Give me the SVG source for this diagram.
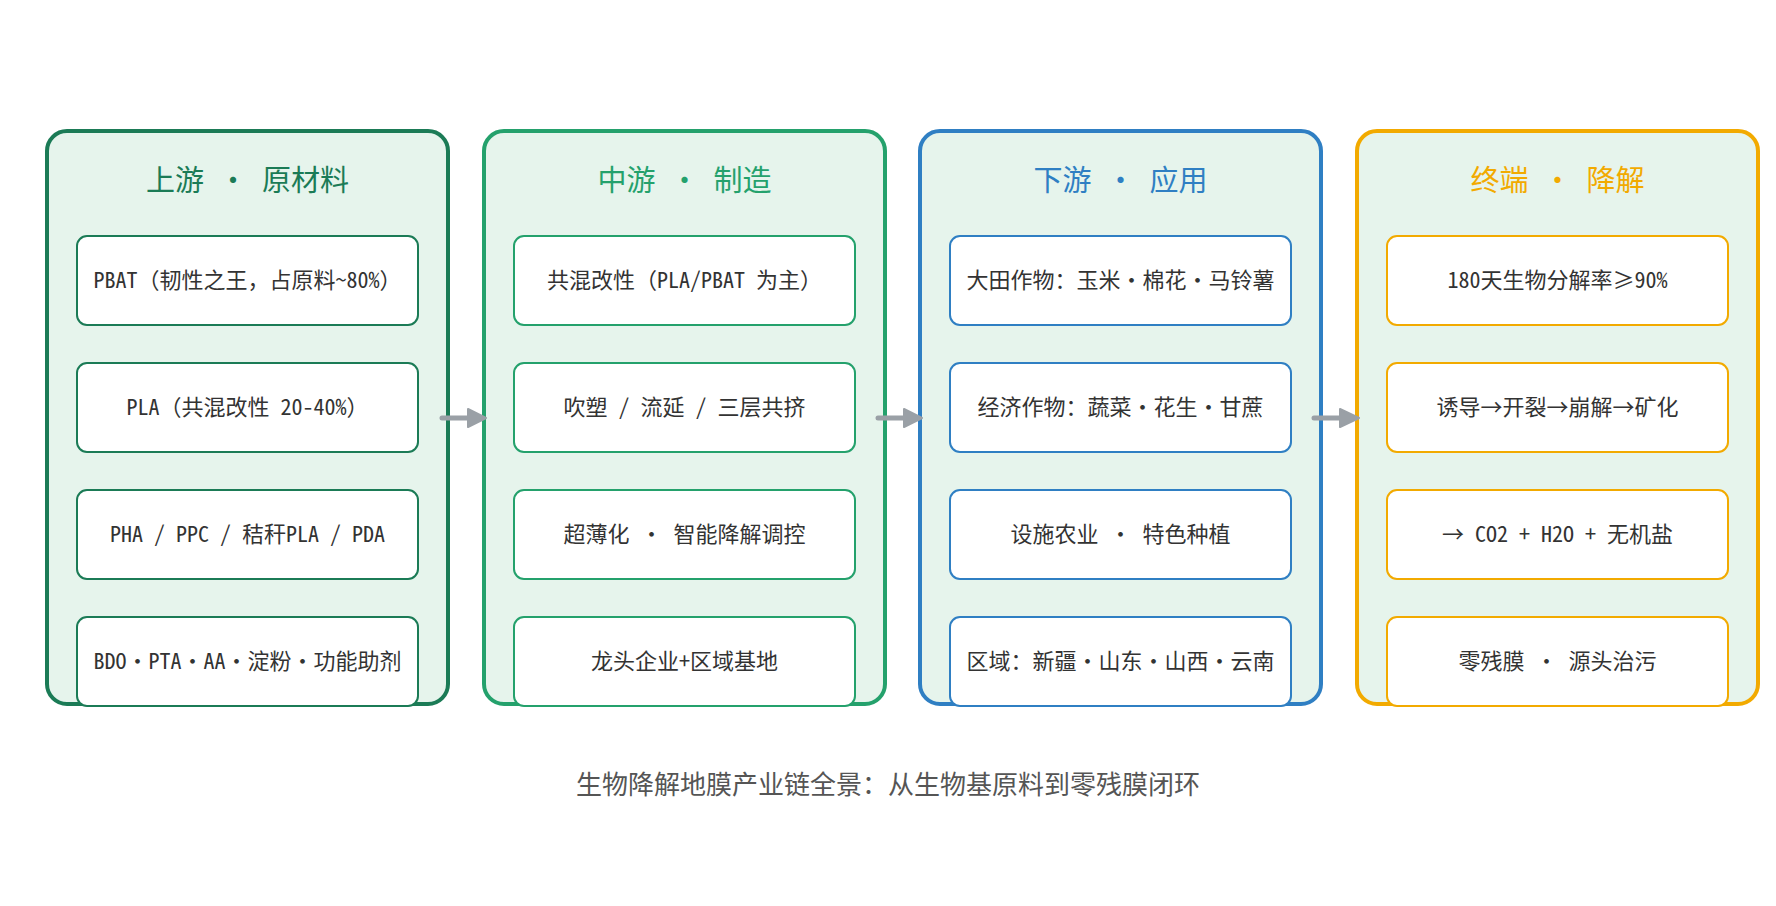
<svg xmlns="http://www.w3.org/2000/svg" width="1776" height="906" viewBox="0 0 1776 906">
<style>
.bg{fill:#ffffff}
.col{fill:#e6f4ec;stroke-width:4}
.item{fill:#ffffff;stroke-width:2}
.title{font-family:"Noto Sans Mono CJK SC","DejaVu Sans Mono","Noto Sans CJK SC",monospace;font-size:29px;text-anchor:middle}
.txt{font-family:"Noto Sans Mono CJK SC","DejaVu Sans Mono","Noto Sans CJK SC",monospace;font-size:22px;fill:#333333;text-anchor:middle}
.cap{font-family:"Noto Sans CJK SC","Noto Sans",sans-serif;font-size:26px;fill:#555555;text-anchor:middle}
.c1{stroke:#1b7b56}.t1{fill:#1b7b56}
.c2{stroke:#24a16c}.t2{fill:#24a16c}
.c3{stroke:#2f7fc3}.t3{fill:#2f7fc3}
.c4{stroke:#f2aa00}.t4{fill:#f2aa00}
.conn line{stroke:#9aa0a6;stroke-width:5;stroke-linecap:round}
.conn polygon{fill:#9aa0a6;stroke:#9aa0a6;stroke-width:2;stroke-linejoin:round}
</style>
<rect class="bg" x="0" y="0" width="1776" height="906"/>

<g id="upstream">
<rect class="col c1" x="47" y="131" width="401" height="573" rx="20"/>
<text class="title t1" x="247.5" y="191" xml:space="preserve">上游 · 原材料</text>
<rect class="item c1" x="77" y="236" width="341" height="89" rx="10"/>
<text class="txt" x="247.5" y="288">PBAT（韧性之王，占原料~80%）</text>
<rect class="item c1" x="77" y="363" width="341" height="89" rx="10"/>
<text class="txt" x="247.5" y="415">PLA（共混改性 20-40%）</text>
<rect class="item c1" x="77" y="490" width="341" height="89" rx="10"/>
<text class="txt" x="247.5" y="542">PHA / PPC / 秸秆PLA / PDA</text>
<rect class="item c1" x="77" y="617" width="341" height="89" rx="10"/>
<text class="txt" x="247.5" y="669">BDO·PTA·AA·淀粉·功能助剂</text>
</g>

<g id="midstream">
<rect class="col c2" x="484" y="131" width="401" height="573" rx="20"/>
<text class="title t2" x="684.5" y="191" xml:space="preserve">中游 · 制造</text>
<rect class="item c2" x="514" y="236" width="341" height="89" rx="10"/>
<text class="txt" x="684.5" y="288">共混改性（PLA/PBAT 为主）</text>
<rect class="item c2" x="514" y="363" width="341" height="89" rx="10"/>
<text class="txt" x="684.5" y="415">吹塑 / 流延 / 三层共挤</text>
<rect class="item c2" x="514" y="490" width="341" height="89" rx="10"/>
<text class="txt" x="684.5" y="542">超薄化 · 智能降解调控</text>
<rect class="item c2" x="514" y="617" width="341" height="89" rx="10"/>
<text class="txt" x="684.5" y="669">龙头企业+区域基地</text>
</g>

<g id="downstream">
<rect class="col c3" x="920" y="131" width="401" height="573" rx="20"/>
<text class="title t3" x="1120.5" y="191" xml:space="preserve">下游 · 应用</text>
<rect class="item c3" x="950" y="236" width="341" height="89" rx="10"/>
<text class="txt" x="1120.5" y="288">大田作物：玉米·棉花·马铃薯</text>
<rect class="item c3" x="950" y="363" width="341" height="89" rx="10"/>
<text class="txt" x="1120.5" y="415">经济作物：蔬菜·花生·甘蔗</text>
<rect class="item c3" x="950" y="490" width="341" height="89" rx="10"/>
<text class="txt" x="1120.5" y="542">设施农业 · 特色种植</text>
<rect class="item c3" x="950" y="617" width="341" height="89" rx="10"/>
<text class="txt" x="1120.5" y="669">区域：新疆·山东·山西·云南</text>
</g>

<g id="terminal">
<rect class="col c4" x="1357" y="131" width="401" height="573" rx="20"/>
<text class="title t4" x="1557.5" y="191" xml:space="preserve">终端 · 降解</text>
<rect class="item c4" x="1387" y="236" width="341" height="89" rx="10"/>
<text class="txt" x="1557.5" y="288">180天生物分解率≥90%</text>
<rect class="item c4" x="1387" y="363" width="341" height="89" rx="10"/>
<text class="txt" x="1557.5" y="415">诱导→开裂→崩解→矿化</text>
<rect class="item c4" x="1387" y="490" width="341" height="89" rx="10"/>
<text class="txt" x="1557.5" y="542">→ CO2 + H2O + 无机盐</text>
<rect class="item c4" x="1387" y="617" width="341" height="89" rx="10"/>
<text class="txt" x="1557.5" y="669">零残膜 · 源头治污</text>
</g>

<g id="connectors" class="conn">
<line x1="442" y1="418" x2="470" y2="418"/>
<polygon points="468,409 486,418 468,427"/>
<line x1="878" y1="418" x2="906" y2="418"/>
<polygon points="904,409 922,418 904,427"/>
<line x1="1314" y1="418" x2="1342" y2="418"/>
<polygon points="1340,409 1359,418 1340,427"/>
</g>

<text class="cap" x="888" y="794">生物降解地膜产业链全景：从生物基原料到零残膜闭环</text>
</svg>
